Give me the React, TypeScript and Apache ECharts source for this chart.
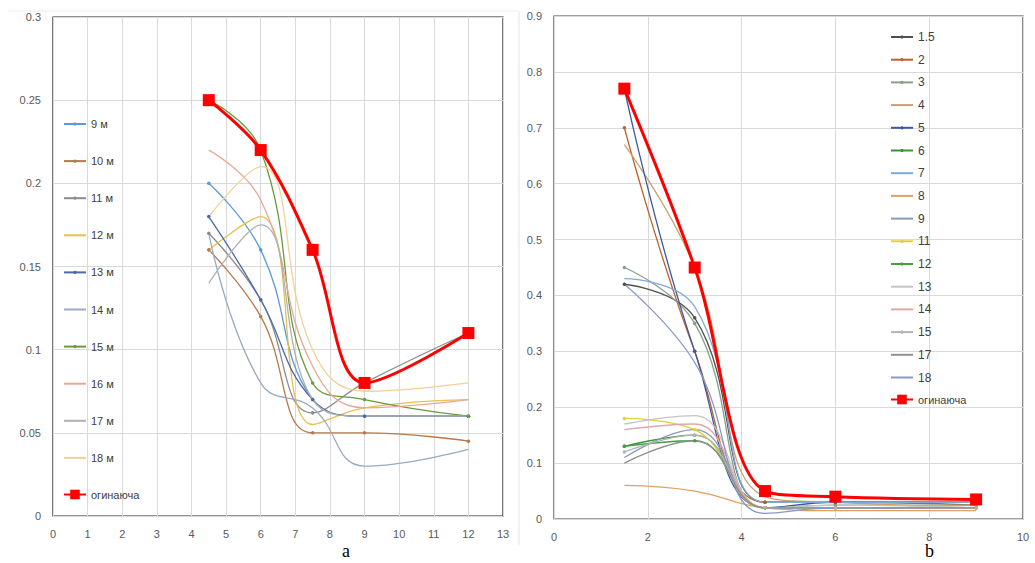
import React, { useEffect, useRef } from "react";
import * as echarts from "echarts";

// ---- Chart a ----
const xA = [4.5, 6, 7.5, 9, 12];
const namesA = ["9 м", "10 м", "11 м", "12 м", "13 м", "14 м", "15 м", "16 м", "17 м", "18 м"];
const s9m = [0.2, 0.16, 0.07, 0.06, 0.06];
const s10m = [0.16, 0.12, 0.05, 0.05, 0.045];
const s11m = [0.17, 0.13, 0.062, 0.08, 0.11];
const s12m = [0.16, 0.18, 0.055, 0.065, 0.07];
const s13m = [0.18, 0.13, 0.07, 0.06, 0.06];
const s14m = [0.17, 0.08, 0.065, 0.03, 0.04];
const s15m = [0.25, 0.22, 0.08, 0.07, 0.06];
const s16m = [0.22, 0.19, 0.09, 0.065, 0.07];
const s17m = [0.14, 0.175, 0.07, 0.06, 0.06];
const s18m = [0.18, 0.21, 0.1, 0.075, 0.08];
const envA = [0.25, 0.22, 0.16, 0.08, 0.11];
const valuesA = [s9m, s10m, s11m, s12m, s13m, s14m, s15m, s16m, s17m, s18m];
const colorsA = ["#5b9bd5", "#b8784a", "#8c8c8c", "#e8c050", "#4a6aaa", "#9aaac0", "#6a9a3a", "#e8a898", "#b0b0b0", "#f2d098"];
const markersA = [true, true, true, false, true, false, true, false, false, false];

// ---- Chart b ----
const xB = [1.5, 3, 4.5, 6, 9];
const namesB = ["1.5", "2", "3", "4", "5", "6", "7", "8", "9", "11", "12", "13", "14", "15", "17", "18"];
const b15 = [0.42, 0.36, 0.03, 0.03, 0.03];
const b2 = [0.7, 0.3, 0.03, 0.03, 0.025];
const b3 = [0.45, 0.35, 0.02, 0.025, 0.025];
const b4 = [0.67, 0.45, 0.04, 0.03, 0.02];
const b5 = [0.77, 0.3, 0.02, 0.03, 0.03];
const b6 = [0.13, 0.15, 0.02, 0.02, 0.02];
const b7 = [0.43, 0.38, 0.03, 0.03, 0.03];
const b8 = [0.06, 0.05, 0.02, 0.015, 0.015];
const b9 = [0.11, 0.16, 0.02, 0.02, 0.02];
const b11 = [0.18, 0.16, 0.02, 0.02, 0.02];
const b12 = [0.13, 0.14, 0.02, 0.02, 0.02];
const b13 = [0.17, 0.185, 0.02, 0.025, 0.02];
const b14 = [0.16, 0.17, 0.02, 0.02, 0.02];
const b15b = [0.12, 0.15, 0.02, 0.02, 0.02];
const b17 = [0.1, 0.14, 0.02, 0.02, 0.02];
const b18 = [0.42, 0.28, 0.01, 0.02, 0.02];
const envB = [0.77, 0.45, 0.05, 0.04, 0.035];
const valuesB = [b15, b2, b3, b4, b5, b6, b7, b8, b9, b11, b12, b13, b14, b15b, b17, b18];
const colorsB = ["#505050", "#c0602a", "#88a088", "#c8a070", "#3a5aa0", "#409040", "#80a8d8", "#e0a060", "#8898b8", "#e0d040", "#40a040", "#c4c4c4", "#e0a8a8", "#b4b4b4", "#909090", "#8898c8"];
const markersB = [true, true, true, false, true, true, false, false, false, true, true, false, false, true, false, false];

const ENV = "огинаюча";
const FONT = "'Liberation Sans', Arial, sans-serif";

export default function App() {
  const ref = useRef<HTMLDivElement>(null);
  useEffect(() => {
    const chart = echarts.init(ref.current!, null, { renderer: "svg" });
    const mk = (xs: number[], ys: number[]) => xs.map((x, i) => [x, ys[i]]);
    const thin = (name: string, xs: number[], ys: number[], color: string, marker: boolean, idx: number) => ({
      type: "line",
      name,
      xAxisIndex: idx,
      yAxisIndex: idx,
      data: mk(xs, ys),
      smooth: 0.45,
      symbol: marker ? "circle" : "none",
      symbolSize: 3.5,
      showSymbol: marker,
      lineStyle: { width: 1.3, color },
      itemStyle: { color },
      z: 2,
    });
    const env = (xs: number[], ys: number[], idx: number) => ({
      type: "line",
      name: ENV,
      xAxisIndex: idx,
      yAxisIndex: idx,
      data: mk(xs, ys),
      smooth: 0.35,
      symbol: "rect",
      symbolSize: 12,
      lineStyle: { width: 3, color: "#ff0000" },
      itemStyle: { color: "#ff0000" },
      z: 5,
    });
    const series: any[] = [];
    namesA.forEach((n, i) => series.push(thin(n, xA, valuesA[i], colorsA[i], markersA[i], 0)));
    series.push(env(xA, envA, 0));
    namesB.forEach((n, i) => series.push(thin(n, xB, valuesB[i], colorsB[i], markersB[i], 1)));
    series.push(env(xB, envB, 1));

    const legendItems = (names: string[], markers: boolean[]) =>
      names.map((n, i) => (markers[i] ? { name: n } : { name: n, itemStyle: { opacity: 0 } }));

    const axisLabel = { color: "#595959", fontSize: 11, fontFamily: FONT };
    const split = { show: true, lineStyle: { color: "#d9d9d9", width: 1 } };
    const legendText = (fs: number) => ({ color: "#404040", fontSize: fs, fontFamily: FONT });
    chart.setOption({
      animation: false,
      backgroundColor: "#ffffff",
      grid: [
        { left: 53, top: 17, width: 450, height: 499, show: true, borderColor: "#222", borderWidth: 1.2 },
        { left: 554, top: 16, width: 469, height: 503, show: true, borderColor: "#404040", borderWidth: 1.2 },
      ],
      xAxis: [
        { type: "value", gridIndex: 0, min: 0, max: 13, interval: 1, axisLine: { show: false }, axisTick: { show: false }, axisLabel: { ...axisLabel, margin: 12 }, splitLine: split },
        { type: "value", gridIndex: 1, min: 0, max: 10, interval: 2, axisLine: { show: false }, axisTick: { show: false }, axisLabel: { ...axisLabel, margin: 12 }, splitLine: split },
      ],
      yAxis: [
        { type: "value", gridIndex: 0, min: 0, max: 0.3, interval: 0.05, axisLine: { show: false }, axisTick: { show: false }, axisLabel: { ...axisLabel, margin: 12 }, splitLine: split },
        { type: "value", gridIndex: 1, min: 0, max: 0.9, interval: 0.1, axisLine: { show: false }, axisTick: { show: false }, axisLabel: { ...axisLabel, margin: 12 }, splitLine: split },
      ],
      legend: [
        {
          data: legendItems(namesA, markersA),
          orient: "vertical",
          left: 63,
          top: 118.5,
          padding: 0,
          itemWidth: 22,
          itemHeight: 4,
          itemGap: 26.1,
          textStyle: legendText(11),
        },
        {
          data: [ENV],
          orient: "vertical",
          left: 63,
          top: 489,
          padding: 0,
          itemWidth: 22,
          itemHeight: 12,
          textStyle: legendText(11),
        },
        {
          data: legendItems(namesB, markersB),
          orient: "vertical",
          left: 890,
          top: 31,
          padding: 0,
          itemWidth: 22,
          itemHeight: 4,
          itemGap: 10.7,
          textStyle: legendText(12),
        },
        {
          data: [ENV],
          orient: "vertical",
          left: 890,
          top: 394,
          padding: 0,
          itemWidth: 22,
          itemHeight: 12,
          textStyle: legendText(11),
        },
      ],
      graphic: [
        { type: "text", left: 342, top: 542, style: { text: "a", font: "18px 'Liberation Serif', 'Times New Roman', serif", fill: "#000" } },
        { type: "text", left: 925, top: 542, style: { text: "b", font: "18px 'Liberation Serif', 'Times New Roman', serif", fill: "#000" } },
        { type: "line", shape: { x1: 519, y1: 11, x2: 519, y2: 545 }, style: { stroke: "#e4e4e4", lineWidth: 1 } },
        { type: "line", shape: { x1: 8, y1: 11, x2: 519, y2: 11 }, style: { stroke: "#ececec", lineWidth: 1 } },
      ],
      series,
    });
    return () => chart.dispose();
  }, []);
  return <div ref={ref} style={{ position: "absolute", left: 0, top: 0, width: 1035, height: 563 }} />;
}
